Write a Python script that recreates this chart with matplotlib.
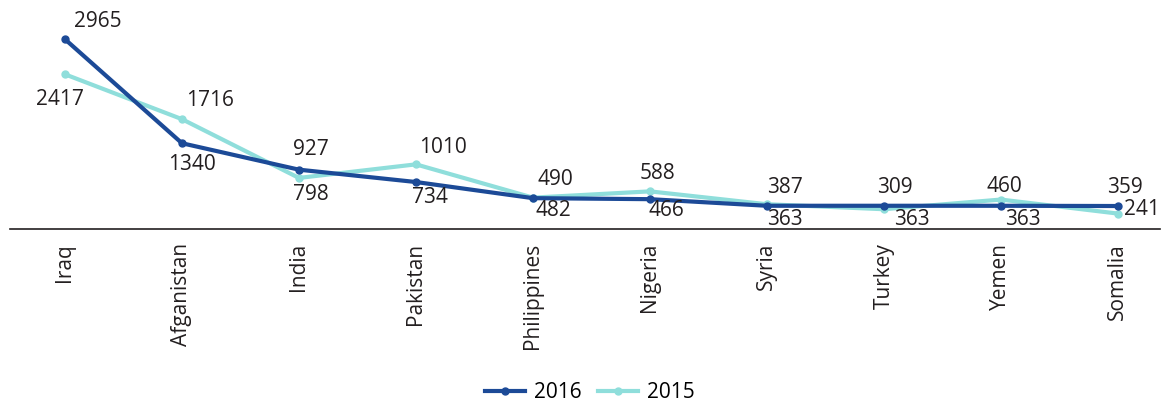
import matplotlib
matplotlib.use("Agg")
import matplotlib.pyplot as plt

# datos
paises = ["Iraq", "Afganistan", "India", "Pakistan", "Philippines",
          "Nigeria", "Syria", "Turkey", "Yemen", "Somalia"]
v2016 = [2965, 1340, 927, 734, 482, 466, 363, 363, 363, 359]
v2015 = [2417, 1716, 798, 1010, 490, 588, 387, 309, 460, 241]

# posición de las etiquetas (pixeles respecto al punto)
off2016 = [(33, 18), (10, -21), (12, 20), (14, -15), (20, -12),
           (16, -11), (18, -14), (28, -14), (22, -14), (7, 19)]
off2015 = [(-5, -25), (28, 19), (12, -17), (27, 17), (22, 18),
           (8, 18), (18, 17), (11, 22), (3, 13), (24, 4)]

plt.rcParams['font.family'] = ['Open Sans', 'DejaVu Sans']

c2016 = '#1c4a97'
c2015 = '#8fdedb'

fig = plt.figure(figsize=(11.68, 4.05), dpi=100)
ax = fig.add_axes([10/1168, 1-229/405, 1150/1168, 224/405])

x = list(range(len(paises)))
ax.plot(x, v2016, '-o', color=c2016, lw=3, ms=5, label='2016', zorder=3)
ax.plot(x, v2015, '-o', color=c2015, lw=3, ms=5, label='2015', zorder=2)

for i in x:
    ax.annotate(str(v2016[i]), (i, v2016[i]), xytext=off2016[i],
                textcoords='offset pixels', ha='center', va='center',
                fontsize=15, color='#231f20', annotation_clip=False)
    ax.annotate(str(v2015[i]), (i, v2015[i]), xytext=off2015[i],
                textcoords='offset pixels', ha='center', va='center',
                fontsize=15, color='#231f20', annotation_clip=False)

ax.set_xlim(-0.47, 9.36)
ax.set_ylim(0, 3500)
ax.set_xticks(x)
ax.set_xticklabels(paises, rotation=90, fontsize=15, color='#231f20')
ax.tick_params(axis='x', length=0, pad=10)
ax.set_yticks([])
for s in ['top', 'right', 'left']:
    ax.spines[s].set_visible(False)
ax.spines['bottom'].set_color('#231f20')
ax.spines['bottom'].set_linewidth(1.2)

fig.legend(loc='center', bbox_to_anchor=(590/1168, 1-393/405), ncol=2,
           frameon=False, fontsize=15, handlelength=1.9, columnspacing=0.8,
           handletextpad=0.45)

fig.savefig('out.png', dpi=100)
